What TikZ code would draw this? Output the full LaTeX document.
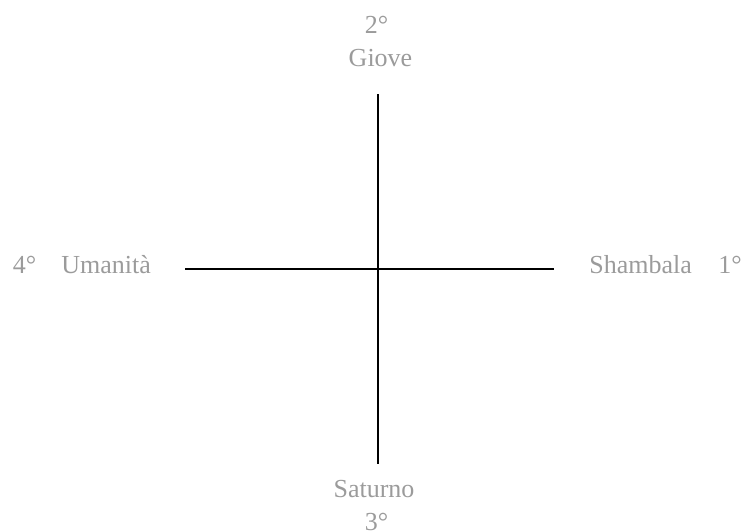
\documentclass[tikz,border=0pt]{standalone}
\usepackage{fontspec}
\setmainfont{Liberation Serif}
\definecolor{labelcolor}{HTML}{9B9B9B}
\definecolor{axiscolor}{HTML}{000000}

\begin{document}
\begin{tikzpicture}[
    x=0.02cm, y=-0.02cm,
    every node/.style={font=\fontsize{14.8}{17}\selectfont, text=labelcolor, inner sep=0pt},
    lab/.style={anchor=base},
    axis/.style={line width=1.1pt, color=axiscolor},
]
\useasboundingbox (0,0) rectangle (741,531);

% ends of the cross
\coordinate (top) at (377.7, 94);
\coordinate (bottom) at (377.7, 464);
\coordinate (left) at (185, 268.6);
\coordinate (right) at (554, 268.6);

\draw[axis] (top) -- (bottom);
\draw[axis] (left) -- (right);

% the four labels
\node[lab] (n2) at (376.5, 33) {2°};
\node[lab] (giove) at (380.5, 66) {Giove};
\node[lab] (saturno) at (374, 497) {Saturno};
\node[lab] (n3) at (376.5, 530) {3°};
\node[lab, anchor=base west] (n4) at (12.5, 273) {4°};
\node[lab, anchor=base west] (umanita) at (61, 273) {Umanità};
\node[lab, anchor=base west] (shambala) at (589, 273) {Shambala};
\node[lab, anchor=base west] (n1) at (718, 273) {1°};
\end{tikzpicture}
\end{document}
